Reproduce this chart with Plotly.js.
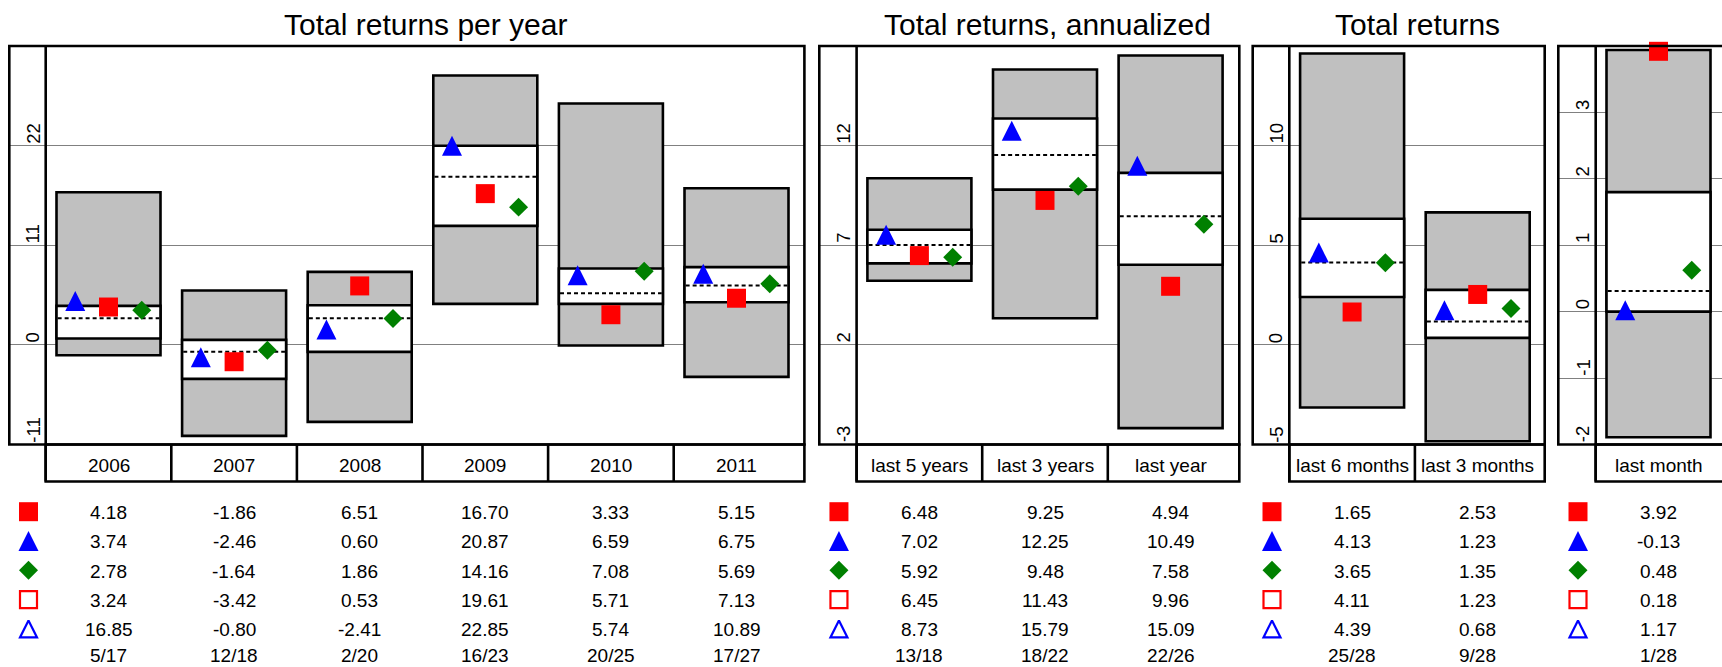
<!DOCTYPE html>
<html><head><meta charset="utf-8">
<script src="https://cdn.plot.ly/plotly-3.0.1.min.js"></script>
<style>html,body{margin:0;padding:0;background:#fff}</style>
</head><body><div id="chart" style="width:1722px;height:667px"></div>
<script>
// ---------- DATA ----------
const p1Title = 'Total returns per year';
const p1Cats = ['2006','2007','2008','2009','2010','2011'];
const p1Ticks = [-11, 0, 11, 22];
const p1Min = [-1.14, -10.05, -8.5, 4.53, -0.07, -3.53];
const p1Q1  = [0.70, -3.75, -0.77, 13.14, 4.53, 4.71];
const p1Med = [2.95, -0.77, 2.95, 18.55, 5.71, 6.55];
const p1Q3  = [4.31, 0.55, 4.38, 21.98, 8.43, 8.58];
const p1Max = [16.86, 6.0, 8.06, 29.74, 26.65, 17.3];
const p1Red   = [4.18, -1.86, 6.51, 16.70, 3.33, 5.15];
const p1Blue  = [3.74, -2.46, 0.60, 20.87, 6.59, 6.75];
const p1Green = [2.78, -1.64, 1.86, 14.16, 7.08, 5.69];
const p1RedOpen  = [3.24, -3.42, 0.53, 19.61, 5.71, 7.13];
const p1BlueOpen = [16.85, -0.80, -2.41, 22.85, 5.74, 10.89];
const p1Rank = ['5/17','12/18','2/20','16/23','20/25','17/27'];

const p2Title = 'Total returns, annualized';
const p2Cats = ['last 5 years','last 3 years','last year'];
const p2Ticks = [-3, 2, 7, 12];
const p2Min = [5.22, 3.34, -2.18];
const p2Q1  = [6.09, 9.79, 6.02];
const p2Med = [7.01, 11.53, 8.45];
const p2Q3  = [7.78, 13.36, 10.63];
const p2Max = [10.36, 15.82, 16.52];
const p2Red   = [6.48, 9.25, 4.94];
const p2Blue  = [7.02, 12.25, 10.49];
const p2Green = [5.92, 9.48, 7.58];
const p2RedOpen  = [6.45, 11.43, 9.96];
const p2BlueOpen = [8.73, 15.79, 15.09];
const p2Rank = ['13/18','18/22','22/26'];

const p3Title = 'Total returns';
const p3Cats = ['last 6 months','last 3 months'];
const p3Ticks = [-5, 0, 5, 10];
const p3Min = [-3.14, -4.84];
const p3Q1  = [2.40, 0.35];
const p3Med = [4.14, 1.17];
const p3Q3  = [6.33, 2.76];
const p3Max = [14.62, 6.65];
const p3Red   = [1.65, 2.53];
const p3Blue  = [4.13, 1.23];
const p3Green = [3.65, 1.35];
const p3RedOpen  = [4.11, 1.23];
const p3BlueOpen = [4.39, 0.68];
const p3Rank = ['25/28','9/28'];

const p4Title = '';
const p4Cats = ['last month'];
const p4Ticks = [-2, -1, 0, 1, 2, 3];
const p4Min = [-1.89];
const p4Q1  = [0.0];
const p4Med = [0.31];
const p4Q3  = [1.80];
const p4Max = [3.94];
const p4Red   = [3.92];
const p4Blue  = [-0.13];
const p4Green = [0.48];
const p4RedOpen  = [0.18];
const p4BlueOpen = [1.17];
const p4Rank = ['1/28'];

// ---------- LAYOUT GEOMETRY ----------
const W = 1722, H = 667;
const FONT = '"Liberation Sans", Arial, sans-serif';
const plotTop = 46, plotBottom = 444.5, labelBottom = 481.5, catW = 125.6;
const rowY0 = 512.4, rowStep = 29.3;
const RED = '#ff0000', BLUE = '#0000ff', GREEN = '#008000', GRAY = '#c0c0c0';
const geom = [
  {strip: 9.3, inner: 45.7, right: 804.4},
  {strip: 819.3, inner: 856.6, right: 1239.3},
  {strip: 1252.7, inner: 1289.3, right: 1544.7},
  {strip: 1558.3, inner: 1595.7, right: 1726}
];
const panels = [
  {title:p1Title, cats:p1Cats, yr:[-11,33], ticks:p1Ticks, min:p1Min, q1:p1Q1, med:p1Med, q3:p1Q3, max:p1Max, red:p1Red, blue:p1Blue, green:p1Green, redO:p1RedOpen, blueO:p1BlueOpen, rank:p1Rank},
  {title:p2Title, cats:p2Cats, yr:[-3,17], ticks:p2Ticks, min:p2Min, q1:p2Q1, med:p2Med, q3:p2Q3, max:p2Max, red:p2Red, blue:p2Blue, green:p2Green, redO:p2RedOpen, blueO:p2BlueOpen, rank:p2Rank},
  {title:p3Title, cats:p3Cats, yr:[-5,15], ticks:p3Ticks, min:p3Min, q1:p3Q1, med:p3Med, q3:p3Q3, max:p3Max, red:p3Red, blue:p3Blue, green:p3Green, redO:p3RedOpen, blueO:p3BlueOpen, rank:p3Rank},
  {title:p4Title, cats:p4Cats, yr:[-2,4], ticks:p4Ticks, min:p4Min, q1:p4Q1, med:p4Med, q3:p4Q3, max:p4Max, red:p4Red, blue:p4Blue, green:p4Green, redO:p4RedOpen, blueO:p4BlueOpen, rank:p4Rank}
];

const data = [], annotations = [], shapes = [];
const layout = {
  width: W, height: H, margin: {l:0, r:0, t:0, b:0, pad:0},
  paper_bgcolor: '#ffffff', plot_bgcolor: 'rgba(0,0,0,0)',
  showlegend: false, barmode: 'overlay', hovermode: false,
  font: {family: FONT, color: '#000'}
};
const py = v => 1 - v / H;
const BW = 0.828, LW = 2.6, TRI = 20;

panels.forEach((p, k) => {
  const n = k + 1, sfx = n > 1 ? String(n) : '';
  const xa = 'x' + sfx, ya = 'y' + sfx;
  const g = geom[k];
  const domEnd = Math.min(g.right, W), domW = domEnd - g.strip;
  const idx = p.cats.map((_, i) => i);
  layout['xaxis' + sfx] = {
    domain: [g.strip / W, domEnd / W],
    range: [-0.5 - (g.inner - g.strip) / catW, -0.5 + (domEnd - g.inner) / catW],
    anchor: ya, showgrid: false, zeroline: false, showticklabels: false, ticks: '', showline: false
  };
  layout['yaxis' + sfx] = {
    domain: [py(plotBottom), py(plotTop)], range: p.yr, anchor: xa,
    tickmode: 'array', tickvals: p.ticks, showgrid: true, gridcolor: '#808080', gridwidth: 1,
    zeroline: false, showticklabels: false, ticks: '', showline: false
  };
  // gray full-range boxes
  data.push({type:'bar', xaxis:xa, yaxis:ya, x:idx, base:p.min, y:idx.map(i => p.max[i] - p.min[i]),
    width:BW, marker:{color:GRAY, line:{color:'#000', width:LW}}, hoverinfo:'skip'});
  // white interquartile boxes
  data.push({type:'bar', xaxis:xa, yaxis:ya, x:idx, base:p.q1, y:idx.map(i => p.q3[i] - p.q1[i]),
    width:BW, marker:{color:'#ffffff', line:{color:'#000', width:LW}}, hoverinfo:'skip'});
  // dashed medians
  const mx = [], my = [];
  idx.forEach(i => { mx.push(i - 0.405, i + 0.405, null); my.push(p.med[i], p.med[i], null); });
  data.push({type:'scatter', mode:'lines', xaxis:xa, yaxis:ya, x:mx, y:my,
    line:{color:'#000', width:2, dash:'4px,3px'}, hoverinfo:'skip'});
  // markers
  data.push({type:'scatter', mode:'markers', xaxis:xa, yaxis:ya, x:idx.map(i => i - 0.265), y:p.blue,
    cliponaxis:false, marker:{symbol:'arrow-down', angle:180, standoff:TRI, size:TRI, color:BLUE, line:{width:0}}});
  data.push({type:'scatter', mode:'markers', xaxis:xa, yaxis:ya, x:idx, y:p.red,
    cliponaxis:false, marker:{symbol:'square', size:19, color:RED, line:{width:0}}});
  data.push({type:'scatter', mode:'markers', xaxis:xa, yaxis:ya, x:idx.map(i => i + 0.265), y:p.green,
    cliponaxis:false, marker:{symbol:'diamond', angle:180, standoff:9.5, size:14.6, color:GREEN, line:{width:0}}});

  // frames
  const xd = xa + ' domain', yd = ya + ' domain';
  const fx1 = (g.right - g.strip) / domW, fxi = (g.inner - g.strip) / domW;
  const yLab = -(labelBottom - plotBottom) / (plotBottom - plotTop);
  const ln = {color:'#000', width:LW};
  shapes.push({type:'rect', xref:xd, yref:yd, x0:0, x1:fx1, y0:0, y1:1, line:ln});
  shapes.push({type:'line', xref:xd, yref:yd, x0:fxi, x1:fxi, y0:yLab, y1:1, line:ln});
  shapes.push({type:'rect', xref:xd, yref:yd, x0:fxi, x1:fx1, y0:yLab, y1:0, line:ln});
  for (let i = 0; i < p.cats.length - 1; i++) {
    const xv = (g.inner + (i + 1) * catW - g.strip) / domW;
    shapes.push({type:'line', xref:xd, yref:yd, x0:xv, x1:xv, y0:yLab, y1:0, line:ln});
  }

  // title
  if (p.title) annotations.push({xref:'paper', yref:'paper', x:(g.inner + g.right) / 2 / W, y:py(24),
    text:p.title, showarrow:false, font:{size:30, family:FONT, color:'#000'}, xanchor:'center', yanchor:'middle'});
  // y tick labels (rotated)
  p.ticks.forEach(t => annotations.push({xref:'paper', yref:ya, x:(g.inner - 13) / W, y:t, text:String(t),
    textangle:-90, showarrow:false, xanchor:'center', yanchor:'bottom', font:{size:18.5, family:FONT, color:'#000'}}));
  // category labels
  p.cats.forEach((c, i) => annotations.push({xref:xa, yref:'paper', x:i, y:py(465), text:c, showarrow:false,
    xanchor:'center', yanchor:'middle', font:{size:19, family:FONT, color:'#000'}}));
  // table rows
  const rows = [p.red, p.blue, p.green, p.redO, p.blueO];
  rows.forEach((arr, r) => arr.forEach((v, i) => annotations.push({xref:xa, yref:'paper', x:i, y:py(rowY0 + r * rowStep),
    text:v.toFixed(2), showarrow:false, xanchor:'center', yanchor:'middle', font:{size:19, family:FONT, color:'#000'}})));
  p.rank.forEach((s, i) => annotations.push({xref:xa, yref:'paper', x:i, y:0, borderpad:0,
    text:s, showarrow:false, xanchor:'center', yanchor:'bottom', font:{size:19, family:FONT, color:'#000'}}));
});

// key symbols in the table (pixel overlay axis)
layout.xaxis5 = {domain:[0,1], range:[0,W], anchor:'y5', visible:false, showgrid:false, zeroline:false};
layout.yaxis5 = {domain:[0,1], range:[H,0], anchor:'x5', visible:false, showgrid:false, zeroline:false};
const keyX = geom.map(g => (g.strip + g.inner) / 2 + 1);
const keyDefs = [
  {symbol:'square', color:RED, size:19, lw:0, angle:0, so:0},
  {symbol:'arrow-down', color:BLUE, size:20, lw:0, angle:180, so:10},
  {symbol:'diamond', color:GREEN, size:14.6, lw:0, angle:0, so:0},
  {symbol:'square-open', color:RED, size:17, lw:2.2, angle:0, so:0},
  {symbol:'arrow-down-open', color:BLUE, size:17, lw:2.2, angle:180, so:8.5}
];
keyDefs.forEach((d, r) => data.push({type:'scatter', mode:'markers', xaxis:'x5', yaxis:'y5',
  x:keyX, y:keyX.map(() => rowY0 - 0.7 + r * rowStep), cliponaxis:false,
  marker:{symbol:d.symbol, size:d.size, angle:d.angle, standoff:d.so, color:d.color, line:{color:d.color, width:d.lw}}}));

layout.annotations = annotations;
layout.shapes = shapes;
Plotly.newPlot('chart', data, layout, {staticPlot:true, displayModeBar:false});
</script></body></html>
